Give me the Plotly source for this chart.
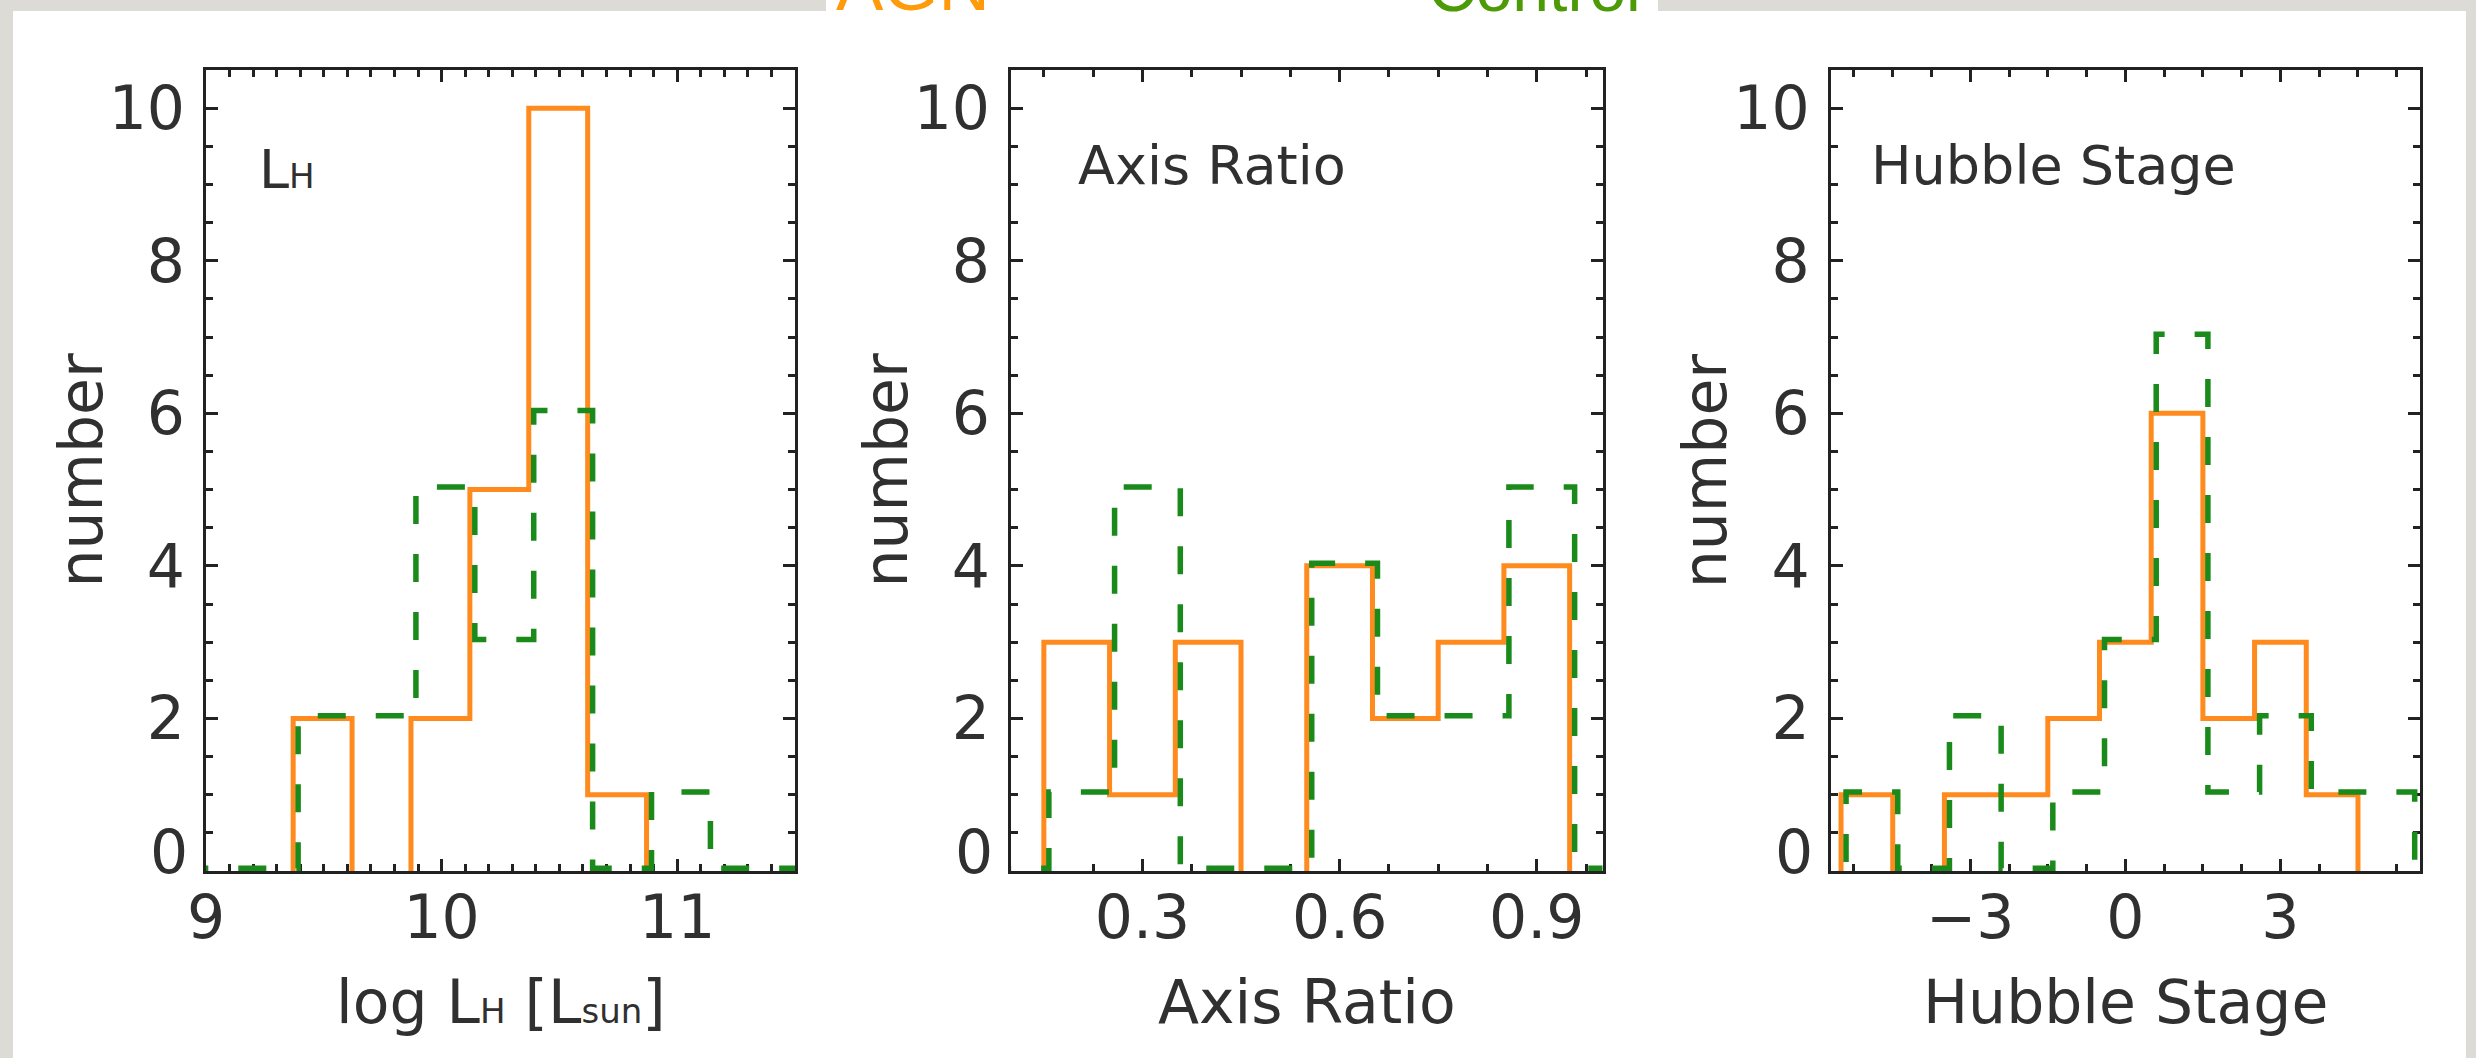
import plotly.graph_objects as go

W, H = 2476, 1058

# ---------------- data ----------------
series_names = ["AGN", "Control"]

lh_edges = [8.87, 9.12, 9.37, 9.62, 9.87, 10.12, 10.37, 10.62, 10.87, 11.12, 11.37, 11.62]
lh_agn = [0, 0, 2, 0, 2, 5, 10, 1, 0, 0, 0]
lh_ctrl = [0, 0, 2, 2, 5, 3, 6, 0, 1, 0, 0]

ar_edges = [0.05, 0.15, 0.25, 0.35, 0.45, 0.55, 0.65, 0.75, 0.85, 0.95, 1.05]
ar_agn = [0, 3, 1, 3, 0, 4, 2, 3, 4, 0]
ar_ctrl = [0, 1, 5, 0, 0, 4, 2, 2, 5, 0]

hs_edges = [-6.5, -5.5, -4.5, -3.5, -2.5, -1.5, -0.5, 0.5, 1.5, 2.5, 3.5, 4.5, 5.5, 6.5]
hs_agn = [0, 1, 0, 1, 1, 2, 3, 6, 2, 3, 1, 0, 0]
hs_ctrl = [0, 1, 0, 2, 0, 1, 3, 7, 1, 2, 1, 1, 0]

SUB = "<span style='font-size:34px'>{}</span>"
x_titles = ["log L" + SUB.format("H") + " [L" + SUB.format("sun") + "]", "Axis Ratio", "Hubble Stage"]
panel_labels = ["L" + SUB.format("H"), "Axis Ratio", "Hubble Stage"]
y_title = "number"
y_tickvals = [0, 2, 4, 6, 8, 10]
x_tickvals = [[9, 10, 11], [0.3, 0.6, 0.9], [-3, 0, 3]]
x_ticktext = [["9", "10", "11"], ["0.3", "0.6", "0.9"], ["\u22123", "0", "3"]]
x_ranges = [[9, 11.5], [0.1, 1.0], [-5.7, 5.7]]
x_minor = [(9, 0.1), (0, 0.075), (0, 0.75)]
y_range = [0, 10.5]

# ---------------- style ----------------
FONT = "DejaVu Sans"
TXT = "#303030"
AX = "#222222"
ORANGE = "#ff8a1e"
GREEN = "#1a8a1a"
BG = "#dddbd6"

dom_px = [(206, 795), (1011, 1602.5), (1830.7, 2420)]
top_px, bot_px = 70, 871
# small drawing offset of the dashed control curve (x in data units, y in counts)
ctrl_shift = [(0.021, 0.035), (0.0076, 0.035), (0.097, 0.035)]
label_px = [(257, 170, 54), (1076, 166, 54), (1869, 166, 54)]


def px_x(x):
    return x / W


def px_y(y):
    return 1 - y / H


def step_full(edges, counts, dx, dy):
    xs, ys = [], []
    for i, c in enumerate(counts):
        xs += [edges[i] + dx, edges[i + 1] + dx]
        ys += [c + dy, c + dy]
    return xs, ys


def step_outline(edges, counts):
    xs, ys = [], []
    n = len(counts)
    i = 0
    while i < n:
        if counts[i] == 0:
            i += 1
            continue
        j = i
        xs.append(edges[i]); ys.append(0)
        while j < n and counts[j] > 0:
            xs += [edges[j], edges[j + 1]]
            ys += [counts[j], counts[j]]
            j += 1
        xs.append(edges[j]); ys.append(0)
        xs.append(None); ys.append(None)
        i = j
    return xs, ys


data = [(lh_edges, lh_agn, lh_ctrl), (ar_edges, ar_agn, ar_ctrl), (hs_edges, hs_agn, hs_ctrl)]

fig = go.Figure()
for k, (edges, agn, ctrl) in enumerate(data):
    sfx = "" if k == 0 else str(k + 1)
    ox, oy = step_outline(edges, agn)
    fig.add_trace(go.Scatter(x=ox, y=oy, mode="lines", name=series_names[0],
                             line=dict(color=ORANGE, width=5), xaxis="x" + sfx, yaxis="y" + sfx,
                             showlegend=False, hoverinfo="skip", connectgaps=False))
    dx, dy = ctrl_shift[k]
    gx, gy = step_full(edges, ctrl, dx, dy)
    fig.add_trace(go.Scatter(x=gx, y=gy, mode="lines", name=series_names[1],
                             line=dict(color=GREEN, width=5.5, dash="28px,30px"),
                             xaxis="x" + sfx, yaxis="y" + sfx,
                             showlegend=False, hoverinfo="skip"))

common = dict(showline=True, linecolor=AX, linewidth=3, mirror="ticks", ticks="inside",
              ticklen=12, tickwidth=2.5, tickcolor=AX, showgrid=False, zeroline=False,
              tickfont=dict(family=FONT, size=60, color=TXT), layer="below traces",
              fixedrange=True, automargin=False)

layout = dict(width=W, height=H, margin=dict(l=0, r=0, t=0, b=0, pad=0, autoexpand=False),
              autosize=False, paper_bgcolor=BG, plot_bgcolor="white", showlegend=False)

annotations = []
shapes = [
    dict(type="rect", xref="paper", yref="paper", x0=px_x(13), x1=px_x(2466),
         y0=0, y1=px_y(11), fillcolor="white", line=dict(width=0), layer="below"),
    dict(type="rect", xref="paper", yref="paper", x0=px_x(826), x1=px_x(1658),
         y0=px_y(11), y1=1, fillcolor="white", line=dict(width=0), layer="below"),
]

for k in range(3):
    sfx = "" if k == 0 else str(k + 1)
    l, r = dom_px[k]
    mt0, mdt = x_minor[k]
    layout["xaxis" + sfx] = dict(common, domain=[px_x(l), px_x(r)], range=x_ranges[k],
                                 tickmode="array", tickvals=x_tickvals[k], ticktext=x_ticktext[k],
                                 anchor="y" + sfx, ticklabelstandoff=-8,
                                 minor=dict(ticks="inside", ticklen=7, tickwidth=2.5,
                                            tickcolor=AX, tick0=mt0, dtick=mdt, showgrid=False))
    layout["yaxis" + sfx] = dict(common, domain=[px_y(bot_px), px_y(top_px)], range=y_range,
                                 tickmode="array", tickvals=y_tickvals[1:],
                                 ticktext=[str(v) for v in y_tickvals[1:]],
                                 anchor="x" + sfx, ticklabelstandoff=6,
                                 minor=dict(ticks="inside", ticklen=7, tickwidth=2.5,
                                            tickcolor=AX, tick0=0, dtick=0.5, showgrid=False))
    # the "0" label sits slightly above the axis in the reference
    annotations.append(dict(text=str(y_tickvals[0]), xref="paper", yref="paper",
                            x=px_x(l - 16), y=px_y(852), xanchor="right", yanchor="middle",
                            showarrow=False, font=dict(family=FONT, size=60, color=TXT)))
    annotations.append(dict(text=x_titles[k], xref="paper", yref="paper",
                            x=px_x((l + r) / 2), y=px_y(1002), xanchor="center", yanchor="middle",
                            showarrow=False, font=dict(family=FONT, size=60, color=TXT)))
    annotations.append(dict(text=y_title, xref="paper", yref="paper", textangle=-90,
                            x=px_x(l - 126), y=px_y((top_px + bot_px) / 2),
                            xanchor="center", yanchor="middle",
                            showarrow=False, font=dict(family=FONT, size=60, color=TXT)))
    lx, ly, ls = label_px[k]
    annotations.append(dict(text=panel_labels[k], xref="paper", yref="paper",
                            x=px_x(lx), y=px_y(ly), xanchor="left", yanchor="middle",
                            showarrow=False, font=dict(family=FONT, size=ls, color=TXT)))

# series names at the top of the slide (cut off by the frame edge, as in the reference)
annotations.append(dict(text=series_names[0], xref="paper", yref="paper", x=px_x(834), y=px_y(27),
                        xanchor="left", yanchor="bottom", showarrow=False,
                        font=dict(family="Liberation Sans", size=71, color="#ff9a0a")))
annotations.append(dict(text=series_names[1], xref="paper", yref="paper", x=px_x(1643), y=px_y(27),
                        xanchor="right", yanchor="bottom", showarrow=False,
                        font=dict(family="Liberation Sans", size=66, color="#4c9a06")))

layout["annotations"] = annotations
layout["shapes"] = shapes
fig.update_layout(**layout)

fig.write_html("out.html", config={"displayModeBar": False},
               post_script="document.body.style.margin='0';document.body.style.overflow='hidden';")
